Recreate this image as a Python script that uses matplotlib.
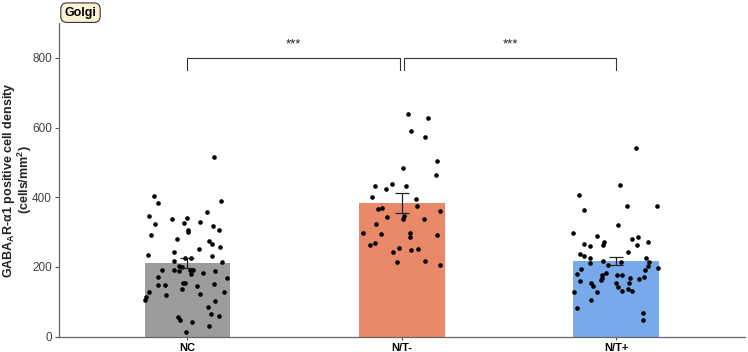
import matplotlib
matplotlib.use("Agg")
import matplotlib.pyplot as plt

plt.rcParams["font.family"] = ["Liberation Sans", "DejaVu Sans"]
plt.rcParams["mathtext.fontset"] = "custom"
plt.rcParams["mathtext.rm"] = "Liberation Sans:bold"
plt.rcParams["mathtext.bf"] = "Liberation Sans:bold"

groups = ["NC", "N/T-", "N/T+"]
means = [211, 384, 216]
sems = [14, 29, 12]
colours = ["#9c9c9c", "#e8896a", "#78a9ea"]

nc_vals = [516, 404, 382, 390, 346, 358, 341, 337, 326, 329, 322, 316, 307, 299, 306, 291,
           280, 275, 266, 257, 251, 244, 235, 230, 218, 224, 226, 213, 203, 199, 191, 190,
           188, 192, 190, 179, 182, 188, 171, 168, 153, 155, 151, 149, 148, 144, 137, 129,
           129, 123, 120, 113, 106, 102, 86, 64, 60, 56, 46, 41, 31, 12]
nc_jit = [0.124, -0.155, -0.136, 0.159, -0.178, 0.091, -0.004, -0.072, -0.016, 0.058, -0.153,
          0.119, 0.004, 0.002, 0.148, -0.169, -0.048, 0.100, 0.117, 0.152, 0.055, -0.063,
          -0.186, 0.117, -0.063, -0.012, 0.016, 0.162, -0.041, -0.024, -0.120, -0.063, -0.040,
          0.012, 0.024, 0.016, 0.074, 0.127, -0.139, 0.183, -0.022, -0.010, 0.125, -0.139,
          -0.103, 0.043, -0.026, -0.178, 0.170, 0.057, -0.102, -0.195, -0.200, 0.130, 0.097,
          0.108, 0.148, -0.046, -0.035, 0.022, 0.102, -0.007]

nt_minus_vals = [638, 626, 591, 573, 503, 464, 485, 431, 424, 437, 431, 401, 396, 375, 365,
                 368, 360, 344, 346, 338, 338, 322, 296, 293, 298, 286, 291, 269, 264, 253,
                 251, 242, 247, 218, 213, 205]
nt_minus_jit = [0.028, 0.121, 0.042, 0.107, 0.166, 0.157, 0.006, -0.124, -0.073, -0.048, 0.020,
                -0.140, 0.067, 0.071, -0.113, -0.092, 0.176, -0.070, 0.008, 0.006, 0.103,
                -0.121, -0.182, -0.099, 0.036, 0.037, 0.165, -0.123, -0.148, -0.015, 0.075,
                -0.041, 0.042, 0.107, -0.025, 0.176]

nt_plus_vals = [542, 435, 407, 363, 375, 375, 319, 297, 289, 280, 286, 270, 263, 266, 259, 263,
                270, 244, 237, 232, 224, 224, 210, 217, 215, 206, 214, 203, 198, 194, 190, 179,
                181, 178, 176, 176, 169, 163, 167, 166, 171, 159, 155, 155, 153, 145, 141, 135,
                132, 130, 129, 127, 106, 81, 67, 46]
nt_plus_jit = [0.090, 0.019, -0.176, -0.151, 0.051, 0.191, 0.009, -0.200, -0.092, 0.073, 0.101,
               -0.059, -0.064, -0.151, -0.123, 0.095, 0.146, 0.055, -0.169, -0.149, -0.123,
               0.137, -0.123, -0.061, 0.022, -0.037, 0.154, 0.149, 0.194, -0.165, 0.135,
               -0.182, -0.048, 0.005, 0.028, -0.067, -0.067, -0.073, 0.062, 0.107, 0.127,
               -0.168, -0.120, -0.001, 0.059, -0.107, 0.006, 0.053, 0.028, 0.071, -0.090,
               -0.197, -0.120, -0.183, 0.123, 0.123]

points = [(nc_vals, nc_jit), (nt_minus_vals, nt_minus_jit), (nt_plus_vals, nt_plus_jit)]

# significance brackets: (from, to, height, label)
brackets = [(0, 0.99, 800, "***"), (1.01, 2, 800, "***")]

fig = plt.figure(figsize=(7.48, 3.52), dpi=100)
ax = fig.add_axes([0.0785, 0.044, 0.9175, 0.8906])

xs = list(range(len(groups)))
ax.bar(xs, means, width=0.4, color=colours, zorder=1)
for pos, (vals, jit) in enumerate(points):
    ax.scatter([pos + j for j in jit], vals, s=11, color="black", linewidths=0, zorder=2)
ax.errorbar(xs, means, yerr=sems, fmt="none", ecolor="#222222", elinewidth=0.9,
            capsize=5, capthick=0.9, zorder=3)

for x0, x1, h, label in brackets:
    ax.plot([x0, x0, x1, x1], [h - 34, h, h, h - 34], color="#333333", linewidth=0.8)
    ax.text((x0 + x1) / 2, h + 20, label, ha="center", va="bottom", fontsize=9.5,
            color="#222222")

ax.set_xlim(-0.6, 2.6)
ax.set_ylim(0, 900)
ax.set_yticks([0, 200, 400, 600, 800])
ax.set_xticks(xs)
ax.set_xticklabels(groups, fontweight="bold", fontsize=8)
ax.tick_params(axis="y", labelsize=8.5, labelcolor="#404040", length=3, width=0.8,
               color="#555555", pad=2)
ax.tick_params(axis="x", length=2, width=0.8, color="#555555", pad=3)
for side in ["top", "right"]:
    ax.spines[side].set_visible(False)
for side in ["left", "bottom"]:
    ax.spines[side].set_color("#666666")
    ax.spines[side].set_linewidth(0.9)

# y label, two lines placed by hand
fig.text(0.012, 0.489, "GABA$_{\\mathbf{A}}$R-α1 positive cell density", rotation=90,
         ha="center", va="center", fontsize=9, fontweight="bold", color="#222222")
fig.text(0.0328, 0.489, "(cells/mm$^{\\mathbf{2}}$)", rotation=90,
         ha="center", va="center", fontsize=9, fontweight="bold", color="#222222")

fig.text(0.1076, 0.964, "Golgi", ha="center", va="center", fontsize=9, fontweight="bold",
         bbox=dict(boxstyle="round,pad=0.3,rounding_size=0.5", facecolor="#fbf2d4",
                   edgecolor="#333333", linewidth=0.8))

plt.savefig("out.png", dpi=100)
plt.close()
